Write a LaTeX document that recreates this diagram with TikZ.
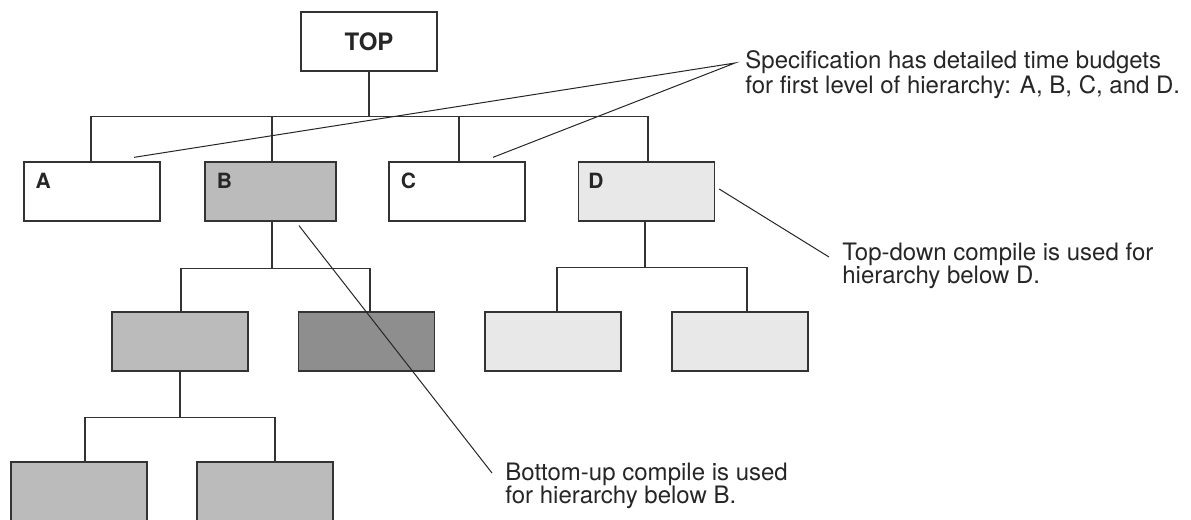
\documentclass[tikz,border=0pt]{standalone}
\usepackage{fontspec}
\setmainfont{TeX Gyre Heros}
\usetikzlibrary{calc, positioning}
\definecolor{boxgray}{HTML}{BBBBBB}
\definecolor{boxdark}{HTML}{8F8E8E}
\definecolor{boxlight}{HTML}{E8E8E8}
\definecolor{ink}{HTML}{333333}

\begin{document}
\begin{tikzpicture}[
        x=0.5pt, y=-0.5pt,
        module/.style={rectangle, draw=ink, line width=0.65pt, minimum width=68pt, minimum height=29.5pt, inner sep=0pt},
        tag/.style={inner sep=0pt, anchor=north west, font=\fontsize{10.5}{12}\selectfont\bfseries, text=black!85},
        note/.style={inner sep=0pt, align=left, anchor=north west, font=\fontsize{12}{11.5}\selectfont, text=black!85},
        link/.style={draw=ink, line width=0.65pt},
        pointer/.style={draw=black!85, line width=0.5pt}
    ]
    \useasboundingbox (0,0) rectangle (1191,520);
    \clip (0,0) rectangle (1191,520);

    \node[module, font=\fontsize{12}{14}\selectfont\bfseries, text=black!85] (top) at (369,41.5) {TOP};

    \node[module] (A) at (92,191.5) {};
    \node[module, minimum width=65.5pt, fill=boxgray] (B) at (270.5,191.5) {};
    \node[module] (C) at (457,191.5) {};
    \node[module, fill=boxlight] (D) at (646.5,191.5) {};

    \node[module, fill=boxgray] (B1) at (180,341.5) {};
    \node[module, fill=boxdark] (B2) at (366.5,341.5) {};
    \node[module, fill=boxlight] (D1) at (553,341.5) {};
    \node[module, fill=boxlight] (D2) at (740,341.5) {};

    \node[module, fill=boxgray] (B11) at (79,491.5) {};
    \node[module, fill=boxgray] (B12) at (265,491.5) {};

    \foreach \n/\dx in {A/12, B/12, C/12, D/10}
        \node[tag] (\n tag) at ([shift={(\dx,11)}]\n.north west) {\n};

    \draw[link] (top.south) -- ++(0,45) coordinate (bus1);
    \draw[link] ([shift={(-1,0)}]A.north) |- (bus1) -| ([shift={(1.5,0)}]D.north);
    \draw[link] ([shift={(1.5,0)}]B.north) -- ([shift={(1.5,0)}]B.north |- bus1);
    \draw[link] ([shift={(2,0)}]C.north) -- ([shift={(2,0)}]C.north |- bus1);

    \draw[link] ([shift={(1.5,0)}]B.south) -- ++(0,47) coordinate (busB);
    \draw[link] ([shift={(1,0)}]B1.north) |- (busB) -| ([shift={(3.5,0)}]B2.north);

    \draw[link] ([shift={(-1.5,0)}]D.south) -- ++(0,46) coordinate (busD);
    \draw[link] ([shift={(4,0)}]D1.north) |- (busD) -| ([shift={(7,0)}]D2.north);

    \draw[link] (B1.south) -- ++(0,46) coordinate (busB1);
    \draw[link] ([shift={(6,0)}]B11.north) |- (busB1) -| ([shift={(10,0)}]B12.north);

    \node[note] (spec) at (745,50) {Specification has detailed time budgets\\for first level of hierarchy: A, B, C, and D.};
    \node[note] (topdown) at (842,243) {Top-down compile is used for\\hierarchy below D.};
    \node[note] (bottomup) at (505,463) {Bottom-up compile is used\\for hierarchy below B.};

    \coordinate (specpt) at ([shift={(-10,13)}]spec.north west);
    \coordinate (Apt) at ([shift={(42,-4)}]A.north);
    \coordinate (Cpt) at ([shift={(36,-4)}]C.north);
    \coordinate (tdpt) at ([shift={(-13,14)}]topdown.north west);
    \coordinate (bupt) at ([shift={(-13,10)}]bottomup.north west);

    \draw[pointer] (Apt) -- (specpt) -- (Cpt);
    \draw[pointer] ($(D.east)+(4,-2.5)$) -- (tdpt);
    \draw[pointer] ($(B.south)+(28.5,4)$) -- (bupt);
\end{tikzpicture}
\end{document}
